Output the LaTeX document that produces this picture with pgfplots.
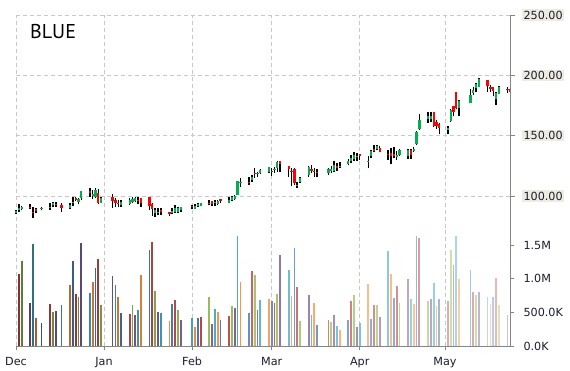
\documentclass[border=0pt]{standalone}
\usepackage{fontspec}
\setmainfont{DejaVu Sans}
\newfontfamily\titlefont{PT Sans}
\usepackage{pgfplots}
\usepackage{pgfplotstable}
\pgfplotsset{compat=1.18}
\definecolor{cB}{HTML}{4F81BD}
\definecolor{cR}{HTML}{C0504D}
\definecolor{cG}{HTML}{9BBB59}
\definecolor{cP}{HTML}{8064A2}
\definecolor{cA}{HTML}{4BACC6}
\definecolor{cO}{HTML}{F79646}
\definecolor{upc}{HTML}{00B050}
\definecolor{dnc}{HTML}{FF0000}
\definecolor{lblbg}{HTML}{EEECE1}
\definecolor{axc}{HTML}{868686}
\definecolor{gridc}{HTML}{C8C8C8}
\definecolor{txt}{HTML}{1C1C30}

\pgfplotstableread{
d o h l c
0 85.8 88.3 85.0 87.5
1 88.3 93.1 86.9 89.7
2 89.2 91.9 88.1 91.1
5 90.8 93.1 88.9 89.7
6 86.3 90.8 81.4 86.0
7 88.9 90.3 85.6 87.8
9 89.2 90.8 88.1 89.9
12 90.5 93.9 88.3 91.2
13 92.5 95.0 90.6 94.4
14 93.3 95.0 91.1 92.5
16 92.5 94.4 86.7 89.7
19 89.7 94.4 88.9 92.5
20 93.9 98.9 91.7 95.3
21 98.1 99.4 95.8 96.7
22 95.0 98.6 93.1 97.5
23 98.1 104.4 96.7 103.9
26 104.4 106.4 99.4 102.8
27 100.0 104.7 97.8 102.0
28 99.4 106.9 98.1 105.0
29 102.8 105.6 93.3 94.4
30 94.4 99.4 93.9 98.1
34 99.4 101.7 90.3 96.0
35 96.7 98.1 91.1 94.4
36 94.4 96.7 90.6 93.5
37 92.5 96.7 91.1 95.0
40 93.3 98.1 92.5 96.7
41 95.0 99.4 93.9 97.5
42 96.2 99.4 95.3 98.6
43 96.7 98.9 93.3 95.8
44 98.6 98.6 91.1 93.9
47 99.4 99.4 88.5 91.5
48 93.5 93.9 83.5 89.5
49 85.6 89.7 82.8 88.3
50 86.0 89.7 84.2 87.0
51 88.0 89.7 84.2 87.0
54 86.5 86.9 83.6 85.0
55 86.0 89.7 85.0 87.5
56 87.0 92.5 85.6 90.0
57 86.4 91.1 85.6 89.7
58 88.3 90.6 86.4 90.6
62 91.9 92.5 88.9 90.6
63 89.5 93.1 88.9 91.5
64 91.7 94.4 91.1 93.5
65 92.0 94.4 91.7 93.9
68 94.0 96.7 92.5 93.0
69 95.5 96.1 91.9 93.5
70 94.0 96.7 91.9 95.0
71 93.5 96.7 92.2 95.8
72 97.5 97.8 94.4 96.2
75 94.5 98.9 93.9 96.7
76 96.5 100.0 95.8 99.0
77 97.5 100.8 96.7 100.4
78 101.0 112.8 100.8 112.5
79 110.5 114.7 107.8 112.0
82 112.0 115.6 109.2 111.0
83 113.0 117.5 111.9 116.0
84 119.0 123.1 114.7 118.0
85 118.5 120.3 116.1 119.4
86 119.0 122.2 118.1 121.5
89 120.3 124.4 118.9 123.9
90 121.0 123.1 116.9 120.0
91 121.5 123.9 118.9 122.0
92 123.1 129.2 119.7 127.8
93 128.6 128.6 120.3 126.4
96 125.0 125.0 116.1 122.2
97 121.0 123.1 108.3 120.0
98 122.2 123.1 109.2 110.6
99 108.0 111.9 106.4 109.0
100 111.9 116.1 110.6 115.3
103 117.5 125.0 116.1 124.4
104 122.2 125.8 118.9 121.1
105 121.0 123.1 116.1 120.0
106 120.3 122.2 116.1 118.9
110 119.4 123.1 117.5 122.2
111 121.0 125.0 118.9 122.0
112 121.1 129.2 119.7 125.8
113 124.5 127.2 121.1 123.5
114 124.0 127.8 123.1 125.0
117 126.5 130.8 125.3 129.0
118 129.0 133.6 127.2 131.5
119 130.6 136.1 128.6 134.2
120 132.0 135.6 129.4 133.5
121 135.0 135.0 130.0 133.0
124 128.0 132.8 123.1 128.8
125 133.3 137.8 131.4 136.9
126 138.9 142.5 136.1 136.9
127 139.0 142.5 137.8 141.5
128 139.7 141.7 136.1 136.1
131 135.0 138.5 130.1 134.0
132 136.0 139.6 126.5 133.0
133 134.7 140.2 131.1 132.8
134 132.0 137.4 130.1 134.0
135 134.2 138.8 133.3 138.5
138 133.3 139.0 130.6 138.3
139 137.9 138.8 130.6 133.9
140 137.7 141.0 136.6 139.3
141 142.9 153.5 142.0 152.9
142 155.7 168.3 154.6 163.4
145 163.9 169.4 160.7 166.1
146 164.0 169.7 161.5 166.0
147 169.4 169.4 157.0 157.9
148 161.0 163.4 155.2 158.0
149 160.0 160.7 151.1 156.6
152 154.6 157.9 151.1 156.6
153 162.0 172.0 161.5 171.0
154 174.9 175.0 166.0 169.4
155 186.6 186.6 172.0 172.9
156 173.0 179.8 166.1 178.4
160 177.0 188.5 177.0 183.9
161 185.0 190.7 183.9 188.0
162 189.3 193.4 185.8 193.0
163 190.7 197.5 190.2 196.7
166 196.2 196.2 186.6 191.3
167 190.0 192.1 186.6 189.0
168 190.7 190.7 182.5 187.4
169 180.3 185.8 175.7 185.2
170 184.7 191.0 184.7 190.7
173 188.5 190.7 185.2 187.5
174 188.5 188.5 181.1 185.8
}\candles

\tikzset{
  vgrid/.style={draw=gridc, dash pattern=on 4pt off 3pt, line width=0.8pt},
  lbl/.style={anchor=west, inner sep=1.5pt, font=\fontsize{11.2}{13}\selectfont, text=txt},
}
\pgfplotsset{
  common/.style={
    scale only axis, anchor=south west, width=494.3pt,
    xmin=0, xmax=174, clip=false,
    xtick=\empty, minor xtick={}, minor ytick={},
    xmajorgrids=false, xminorgrids=false, yminorgrids=false,
    axis line style={draw=none},
    major grid style={draw=gridc, dash pattern=on 4pt off 3pt, line width=0.8pt},
    tick style={draw=axc, line width=0.8pt},
    tick align=outside,
    ticklabel style={font=\fontsize{11.2}{13}\selectfont, text=txt},
    xtick pos=bottom, ytick pos=right, yticklabels={},
  },
  vbar/.style={ycomb, line width=1.8pt, mark=none},
  cndl/.style={only marks, mark=*, mark size=0pt, mark options={draw=none, fill=none},
    error bars/y dir=plus, error bars/y explicit, error bars/error mark=none},
}
\newcommand\vb[3]{\addplot[vbar,draw=#3] coordinates {(#1,#2)};}

\begin{document}
\begin{tikzpicture}
\useasboundingbox (0pt,0pt) rectangle (570pt,370pt);
% price panel
\begin{axis}[common, at={(16pt,142pt)}, height=213pt,
  ymin=73.49, ymax=250,
  ytick={100,150,200,250},
  ymajorgrids, major tick length=5pt,
]
\pgfplotsinvokeforeach{0,31,62,90,121,151}{
  \draw[vgrid] (axis cs:#1,73.49) -- (axis cs:#1,250);
}
\addplot[cndl, error bars/error bar style={draw=black, line width=1.5pt}]
  table[x=d, y=l, y error expr=\thisrow{h}-\thisrow{l}] {\candles};
\addplot[cndl, restrict expr to domain={\thisrow{c}-\thisrow{o}}{0:1000},
  error bars/error bar style={draw=upc, line width=2.2pt}]
  table[x=d, y=o, y error expr={max(\thisrow{c}-\thisrow{o},0.8)}] {\candles};
\addplot[cndl, restrict expr to domain={\thisrow{c}-\thisrow{o}}{-1000:-0.001},
  error bars/error bar style={draw=dnc, line width=2.2pt}]
  table[x=d, y=c, y error expr={max(\thisrow{o}-\thisrow{c},0.8)}] {\candles};
\draw[axc, line width=0.9pt] (axis cs:174,250) -- (axis cs:174,73.49);
\pgfplotsinvokeforeach{100,150,200,250}{
  \node[lbl, fill=lblbg] at ([xshift=11.5pt]axis cs:174,#1) {#1.00};
}
\end{axis}
% volume panel
\begin{axis}[common, at={(16pt,24pt)}, height=118pt,
  ymin=0, ymax=1.753,
  ytick={0,0.5,1,1.5},
  extra x ticks={0,31,62,90,121,151},
  extra x tick labels={Dec,Jan,Feb,Mar,Apr,May},
  extra x tick style={grid=none, xticklabel style={yshift=-3.5pt}},
  major tick length=4pt,
]
\pgfplotsinvokeforeach{0,31,62,90,121,151}{
  \draw[vgrid] (axis cs:#1,0) -- (axis cs:#1,1.753);
}
\vb{1}{1.07}{cR!65!black}
\vb{2}{1.26}{cG!65!black}
\vb{5}{0.64}{cP!65!black}
\vb{6}{1.51}{cA!65!black}
\vb{7}{0.42}{cO!65!black}
\vb{9}{0.34}{cB!65!black}
\vb{12}{0.62}{cR!72!black}
\vb{13}{0.50}{cG!72!black}
\vb{14}{0.52}{cP!72!black}
\vb{16}{0.61}{cA!72!black}
\vb{19}{0.91}{cO!72!black}
\vb{20}{1.26}{cB!72!black}
\vb{21}{0.77}{cR!72!black}
\vb{22}{0.73}{cG!72!black}
\vb{23}{1.53}{cP!72!black}
\vb{26}{0.79}{cA!79!black}
\vb{27}{0.95}{cO!79!black}
\vb{28}{1.16}{cB!79!black}
\vb{29}{1.29}{cR!79!black}
\vb{30}{0.61}{cG!79!black}
\vb{34}{1.04}{cP!79!black}
\vb{35}{0.91}{cA!79!black}
\vb{36}{0.73}{cO!79!black}
\vb{37}{0.49}{cB!79!black}
\vb{40}{0.48}{cR!86!black}
\vb{41}{0.61}{cG!86!black}
\vb{42}{0.46}{cP!86!black}
\vb{43}{0.53}{cA!86!black}
\vb{44}{1.05}{cO!86!black}
\vb{47}{1.43}{cB!86!black}
\vb{48}{1.54}{cR!86!black}
\vb{49}{0.82}{cG!86!black}
\vb{50}{0.50}{cP!86!black}
\vb{51}{0.49}{cA!86!black}
\vb{54}{0.37}{cO!93!black}
\vb{55}{0.62}{cB!93!black}
\vb{56}{0.68}{cR!93!black}
\vb{57}{0.53}{cG!93!black}
\vb{58}{0.39}{cP!93!black}
\vb{62}{0.42}{cA!93!black}
\vb{63}{0.28}{cO!93!black}
\vb{64}{0.42}{cB!93!black}
\vb{65}{0.43}{cR!93!black}
\vb{68}{0.73}{cG}
\vb{69}{0.33}{cP}
\vb{70}{0.55}{cA}
\vb{71}{0.50}{cO}
\vb{72}{0.39}{cB}
\vb{75}{0.45}{cR}
\vb{76}{0.59}{cG}
\vb{77}{0.56}{cP}
\vb{78}{1.63}{cA}
\vb{79}{0.95}{cO}
\vb{82}{0.49}{cB!88!white}
\vb{83}{1.11}{cR!88!white}
\vb{84}{1.05}{cG!88!white}
\vb{85}{0.53}{cP!88!white}
\vb{86}{0.68}{cA!88!white}
\vb{89}{0.70}{cO!88!white}
\vb{90}{0.67}{cB!88!white}
\vb{91}{0.64}{cR!88!white}
\vb{92}{0.77}{cG!88!white}
\vb{93}{1.35}{cP!88!white}
\vb{96}{1.13}{cA!80!white}
\vb{97}{0.74}{cO!80!white}
\vb{98}{1.46}{cB!80!white}
\vb{99}{0.88}{cR!80!white}
\vb{100}{0.37}{cG!80!white}
\vb{103}{0.76}{cP!80!white}
\vb{104}{0.46}{cA!80!white}
\vb{105}{0.64}{cO!80!white}
\vb{106}{0.31}{cB!80!white}
\vb{110}{0.39}{cR!72!white}
\vb{111}{0.36}{cG!72!white}
\vb{112}{0.46}{cP!72!white}
\vb{113}{0.30}{cA!72!white}
\vb{114}{0.24}{cO!72!white}
\vb{117}{0.39}{cB!72!white}
\vb{118}{0.67}{cR!72!white}
\vb{119}{0.76}{cG!72!white}
\vb{120}{0.28}{cP!72!white}
\vb{121}{0.34}{cA!72!white}
\vb{124}{0.92}{cO!64!white}
\vb{125}{0.40}{cB!64!white}
\vb{126}{0.61}{cR!64!white}
\vb{127}{0.61}{cG!64!white}
\vb{128}{0.43}{cP!64!white}
\vb{131}{1.41}{cA!64!white}
\vb{132}{1.07}{cO!64!white}
\vb{133}{0.71}{cB!64!white}
\vb{134}{0.89}{cR!64!white}
\vb{135}{0.64}{cG!64!white}
\vb{138}{1.00}{cP!56!white}
\vb{139}{0.70}{cA!56!white}
\vb{140}{0.62}{cO!56!white}
\vb{141}{1.63}{cB!56!white}
\vb{142}{1.60}{cR!56!white}
\vb{145}{0.67}{cG!56!white}
\vb{146}{0.70}{cP!56!white}
\vb{147}{0.94}{cA!56!white}
\vb{148}{0.59}{cO!56!white}
\vb{149}{0.70}{cB!56!white}
\vb{152}{0.67}{cR!48!white}
\vb{153}{1.43}{cG!48!white}
\vb{154}{1.20}{cP!48!white}
\vb{155}{1.63}{cA!48!white}
\vb{156}{1.00}{cO!48!white}
\vb{160}{1.13}{cB!48!white}
\vb{161}{0.80}{cR!48!white}
\vb{162}{0.76}{cG!48!white}
\vb{163}{0.80}{cP!48!white}
\vb{166}{0.73}{cA!40!white}
\vb{167}{0.62}{cO!40!white}
\vb{168}{0.73}{cB!40!white}
\vb{169}{1.01}{cR!40!white}
\vb{170}{0.61}{cG!40!white}
\vb{173}{0.46}{cP!40!white}
\draw[axc, line width=0.9pt] (axis cs:174,0) -- (axis cs:174,1.753);
\draw[axc, line width=0.9pt] (axis cs:0,0) -- (axis cs:174,0);
\node[lbl] at ([xshift=11.5pt]axis cs:174,0) {0.0K};
\node[lbl] at ([xshift=11.5pt]axis cs:174,0.5) {500.0K};
\node[lbl] at ([xshift=11.5pt]axis cs:174,1) {1.0M};
\node[lbl] at ([xshift=11.5pt]axis cs:174,1.5) {1.5M};
\end{axis}
\node[anchor=base west, inner sep=0pt, font=\titlefont\fontsize{20}{24}\selectfont, text=black] at (30pt,331pt) {BLUE};
\end{tikzpicture}
\end{document}
